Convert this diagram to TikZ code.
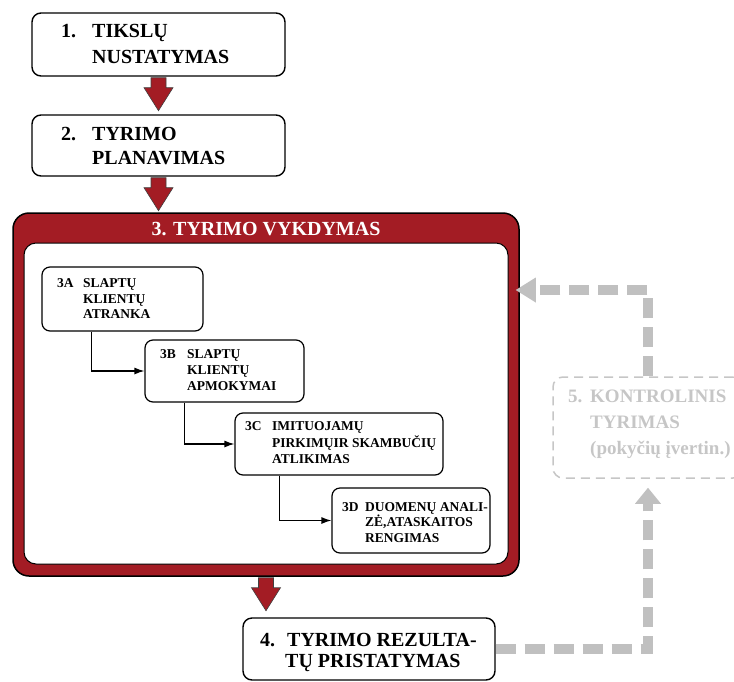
\documentclass[tikz,border=0pt]{standalone}
\usepackage{fontspec}
\setmainfont{Liberation Serif}
\usetikzlibrary{arrows.meta,calc}
\definecolor{myred}{RGB}{163,28,36}
\definecolor{lgray}{RGB}{192,192,192}
\definecolor{tgray}{RGB}{198,198,198}
\begin{document}
\begin{tikzpicture}[x=1pt,y=-1pt,
  box/.style={draw=black, line width=1.4pt, rounded corners=9pt, fill=white, inner sep=0pt},
  sbox/.style={draw=black, line width=1.2pt, rounded corners=8pt, fill=white, inner sep=0pt},
  bigtxt/.style={anchor=base west, inner sep=0pt, font=\bfseries\fontsize{20}{24}\selectfont},
  smalltxt/.style={anchor=base west, inner sep=0pt, font=\bfseries\fontsize{13.5}{16}\selectfont},
  graytxt/.style={anchor=base west, inner sep=0pt, text=tgray, font=\bfseries\fontsize{19}{23}\selectfont},
  subarrow/.style={draw=black, line width=1.2pt, -{Latex[length=10pt,width=7pt]}},
  graypath/.style={draw=lgray, line width=10pt, dash pattern=on 20pt off 9pt},
  redarrow/.pic={\filldraw[fill=myred, draw=black!75, line width=0.6pt]
     (-7.5,1) -- (7.5,1) -- (7.5,11) -- (14.5,11) -- (0,34) -- (-14.5,11) -- (-7.5,11) -- cycle;}
]
\useasboundingbox (0,0) rectangle (734,681);
\clip (0,0) rectangle (734,681);

% box 1
\node[box, minimum width=253pt, minimum height=63pt] (b1) at (158.5,44.5) {};
\node[bigtxt] (b1n) at (61,37) {1.};
\node[bigtxt] (b1a) at (92,37) {TIKSLŲ};
\node[bigtxt] (b1b) at (92,63) {NUSTATYMAS};

% box 2
\node[box, minimum width=253pt, minimum height=61pt] (b2) at (158.5,145.5) {};
\node[bigtxt] (b2n) at (61,140) {2.};
\node[bigtxt] (b2a) at (92,140) {TYRIMO};
\node[bigtxt] (b2b) at (92,164) {PLANAVIMAS};

\pic (ar1) at (b1.south) {redarrow};
\pic (ar2) at (b2.south) {redarrow};

% big red box 3
\node[draw=black, line width=1.5pt, fill=myred, rounded corners=16pt, inner sep=0pt,
      minimum width=506pt, minimum height=363pt] (r3) at (266,394.5) {};
\node[draw=black, line width=1pt, fill=white, rounded corners=12pt, inner sep=0pt,
      minimum width=484pt, minimum height=321pt] (r3in) at (266,403.5) {};
\node[anchor=base, inner sep=0pt, text=white, font=\bfseries\fontsize{20}{24}\selectfont] (r3t) at (266,235) {3. TYRIMO VYKDYMAS};

% 3A
\node[sbox, minimum width=161pt, minimum height=64pt] (a3) at (122.5,299) {};
\node[smalltxt] (a3n) at (57,287) {3A};
\node[smalltxt] (a3a) at (83,287) {SLAPTŲ};
\node[smalltxt] (a3b) at (83,303) {KLIENTŲ};
\node[smalltxt] (a3c) at (83,318.5) {ATRANKA};

% 3B
\node[sbox, minimum width=159pt, minimum height=62pt] (b3) at (224.5,371) {};
\node[smalltxt] (b3n) at (160,358) {3B};
\node[smalltxt] (b3a) at (187,358) {SLAPTŲ};
\node[smalltxt] (b3b) at (187,374) {KLIENTŲ};
\node[smalltxt] (b3c) at (187,390) {APMOKYMAI};

% 3C
\node[sbox, minimum width=208pt, minimum height=62pt] (c3) at (339,444) {};
\node[smalltxt] (c3n) at (245,430) {3C};
\node[smalltxt] (c3a) at (272,430) {IMITUOJAMŲ};
\node[smalltxt] (c3b) at (272,447) {PIRKIMŲIR SKAMBUČIŲ};
\node[smalltxt] (c3c) at (272,463) {ATLIKIMAS};

% 3D
\node[sbox, minimum width=158pt, minimum height=65pt] (d3) at (411,520.5) {};
\node[smalltxt] (d3n) at (342,511) {3D};
\node[smalltxt] (d3a) at (365,511) {DUOMENŲ ANALI-};
\node[smalltxt] (d3b) at (365,526) {ZĖ,ATASKAITOS};
\node[smalltxt] (d3c) at (365,542) {RENGIMAS};

% sub connectors
\draw[subarrow] ($(a3.south west)+(50,0)$) |- (b3.west);
\draw[subarrow] ($(b3.south west)+(40,0)$) |- (c3.west);
\draw[subarrow] ($(c3.south west)+(45,0)$) |- (d3.west);

\pic (ar3) at (r3.south) {redarrow};

% box 4
\node[box, minimum width=252pt, minimum height=62pt] (b4) at (369,649) {};
\node[bigtxt] (b4n) at (260,646) {4.};
\node[bigtxt] (b4a) at (287,646) {TYRIMO REZULTA-};
\node[bigtxt] (b4b) at (285,667) {TŲ PRISTATYMAS};

% box 5
\node[draw=tgray, line width=1.5pt, dash pattern=on 9pt off 6pt, rounded corners=10pt,
      inner sep=0pt, minimum width=190pt, minimum height=101pt] (b5) at (648,427.5) {};
\node[graytxt] (b5n) at (568,402) {5.};
\node[graytxt] (b5a) at (590,402) {KONTROLINIS};
\node[graytxt] (b5b) at (590,428) {TYRIMAS};
\node[graytxt] (b5c) at (590,454) {(pokyčių įvertin.)};

% gray feedback paths
\coordinate (t1) at (648,290);
\draw[graypath, -{Triangle[length=20pt,width=25pt,line width=0pt]}, shorten >=-4pt]
  (b5.north) -- (t1) -- (r3.east |- t1);
\draw[graypath, -{Triangle[length=16pt,width=26pt,line width=0pt]}, shorten >=9pt]
  (b4.east) -- (b4.east -| b5.south) -- (b5.south);
\end{tikzpicture}
\end{document}
